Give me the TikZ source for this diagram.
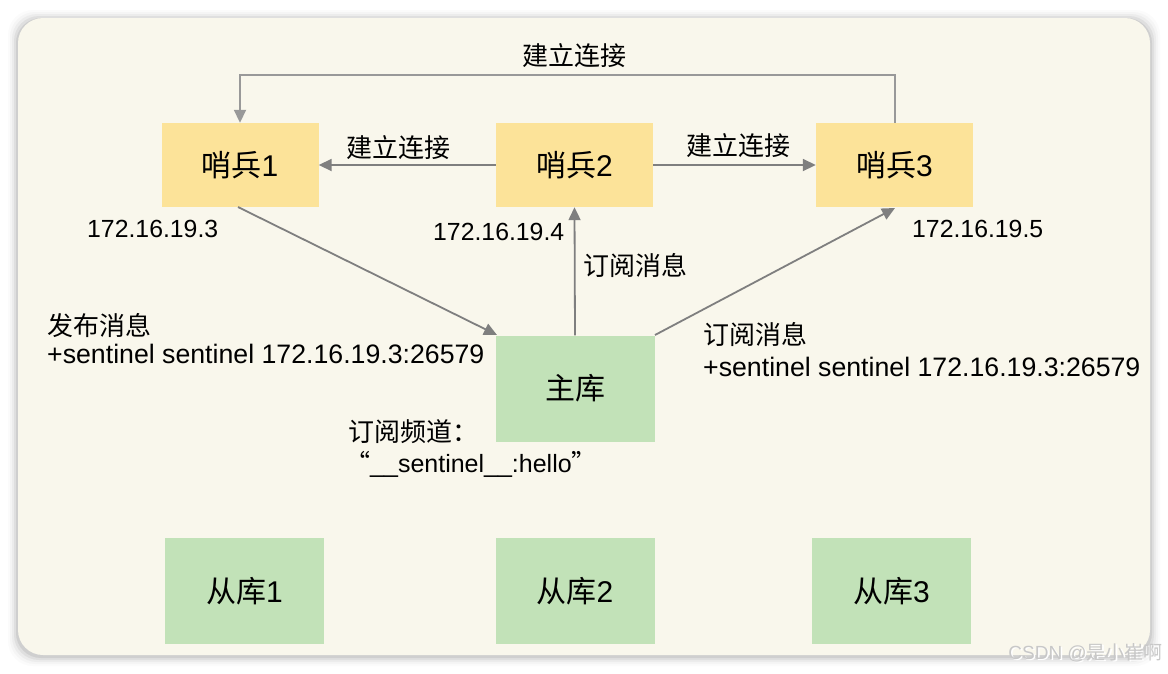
\documentclass[tikz,border=0pt]{standalone}
\usepackage{fontspec}
\setmainfont{Liberation Sans}
\newfontfamily\cjk{Noto Sans CJK SC}
\usetikzlibrary{arrows.meta}
\definecolor{bgc}{HTML}{F9F7EC}
\definecolor{sentc}{HTML}{FCE399}
\definecolor{dbc}{HTML}{C2E2B8}
\definecolor{linec}{HTML}{7F7F7F}
\definecolor{wmc}{HTML}{C8C8C8}
\begin{document}
\begin{tikzpicture}[x=1pt,y=-1pt,
  sentbox/.style={fill=sentc,minimum width=157pt,minimum height=84pt,inner sep=0pt,font=\fontsize{30}{36}\selectfont},
  dbbox/.style={fill=dbc,minimum width=159pt,minimum height=106pt,inner sep=0pt,font=\fontsize{30}{36}\selectfont},
  conn/.style={draw=linec,line width=1.8pt,-{Triangle[length=13pt,width=12pt]}},
  lbl/.style={inner sep=0pt,anchor=base west,font=\fontsize{26}{30}\selectfont},
  iplbl/.style={lbl,font=\fontsize{24.8}{30}\selectfont},
  cmdlbl/.style={lbl,font=\fontsize{26.7}{30}\selectfont},
]
\useasboundingbox (0,0) rectangle (1168,673);
\fill[white] (0,0) rectangle (1168,673);
% soft shadow
\foreach \i/\o in {10/0.015,8/0.025,6/0.035,4/0.05,2/0.07}{
  \fill[black,opacity=\o,rounded corners=25pt] (18-\i,20-\i) rectangle (1150+\i,656+\i);
}
\fill[bgc,rounded corners=25pt] (18,18) rectangle (1150,655);

% nodes
\node[sentbox] (s1) at (240,165) {{\cjk 哨兵}1};
\node[sentbox] (s2) at (574.5,165) {{\cjk 哨兵}2};
\node[sentbox] (s3) at (894.5,165) {{\cjk 哨兵}3};
\node[dbbox] (m) at (575,388.5) {\cjk 主库};
\node[dbbox] (r1) at (244.5,591) {{\cjk 从库}1};
\node[dbbox] (r2) at (575,591) {{\cjk 从库}2};
\node[dbbox] (r3) at (891.5,591) {{\cjk 从库}3};

% connectors
\coordinate (tr) at (895,75);
\coordinate (tl) at (240,75);
\draw[conn,draw=linec!80] (s3.north -| tr) -- (tr) -- (tl) -- (s1.north);
\draw[conn] (s2.west) -- (s1.east);
\draw[conn] (s2.east) -- (s3.west);
\coordinate (s1b) at (238,207);
\coordinate (m1) at (497,335);
\draw[conn] (s1b) -- (m1);
\draw[conn] (m.north) -- (s2.south);
\coordinate (m3) at (655,335);
\coordinate (s3b) at (895,208);
\draw[conn] (m3) -- (s3b);

% labels
\node[lbl] (l0) at (522,65) {\cjk 建立连接};
\node[lbl] (l1) at (346,157) {\cjk 建立连接};
\node[lbl] (l2) at (686,155) {\cjk 建立连接};
\node[lbl] (l3) at (583,275) {\cjk 订阅消息};
\node[iplbl] (ip1) at (87,237) {172.16.19.3};
\node[iplbl] (ip2) at (433,240) {172.16.19.4};
\node[iplbl] (ip3) at (912,237) {172.16.19.5};
\node[lbl] (pub1) at (47,335) {\cjk 发布消息};
\node[cmdlbl] (pub2) at (47,363) {+sentinel sentinel 172.16.19.3:26579};
\node[lbl] (sub1) at (703,344) {\cjk 订阅消息};
\node[cmdlbl] (sub2) at (703,376) {+sentinel sentinel 172.16.19.3:26579};
\node[lbl] (ch1) at (348,441) {\cjk 订阅频道：};
\node[lbl,font=\fontsize{25}{30}\selectfont] (ch2) at (345,472) {{\cjk “}\_\_sentinel\_\_:hello{\cjk ”}};

% watermark
\node[inner sep=0pt,anchor=east,text=white,font=\fontsize{19}{22}\selectfont] (wm0) at (1164.5,654) {CSDN @{\cjk 是小崔啊}};
\node[inner sep=0pt,anchor=east,text=wmc,font=\fontsize{19}{22}\selectfont] (wm) at (1163,652.5) {CSDN @{\cjk 是小崔啊}};
\end{tikzpicture}
\end{document}
